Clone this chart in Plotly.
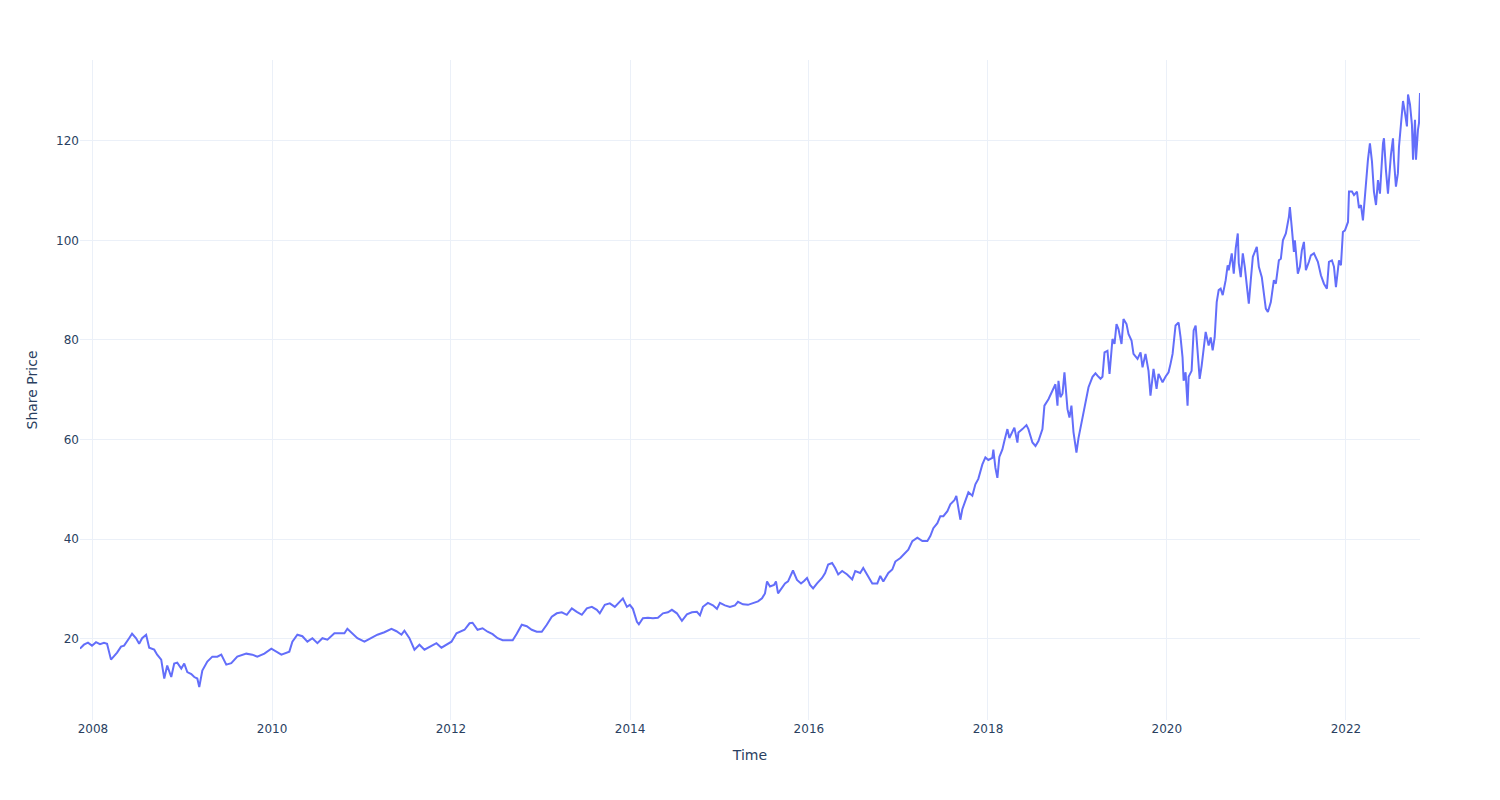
import pandas as pd
import plotly.graph_objects as go

# decimal years
years = [
    2007.855, 2007.899, 2007.944, 2007.989, 2008.034, 2008.078, 2008.123, 2008.157, 2008.201, 2008.235,
    2008.269, 2008.313, 2008.347, 2008.403, 2008.436, 2008.481, 2008.515, 2008.548, 2008.593, 2008.627,
    2008.683, 2008.716, 2008.761, 2008.795, 2008.828, 2008.873, 2008.906, 2008.940, 2008.985, 2009.018,
    2009.052, 2009.097, 2009.130, 2009.164, 2009.186, 2009.220, 2009.276, 2009.332, 2009.388, 2009.432,
    2009.488, 2009.544, 2009.611, 2009.712, 2009.779, 2009.835, 2009.914, 2009.992, 2010.048, 2010.104,
    2010.193, 2010.227, 2010.283, 2010.339, 2010.395, 2010.451, 2010.507, 2010.563, 2010.619, 2010.675,
    2010.697, 2010.753, 2010.809, 2010.842, 2010.898, 2010.954, 2011.033, 2011.111, 2011.178, 2011.256,
    2011.335, 2011.391, 2011.447, 2011.480, 2011.536, 2011.592, 2011.648, 2011.704, 2011.783, 2011.838,
    2011.894, 2011.950, 2012.006, 2012.062, 2012.118, 2012.152, 2012.208, 2012.241, 2012.297, 2012.353,
    2012.409, 2012.465, 2012.521, 2012.577, 2012.633, 2012.689, 2012.734, 2012.790, 2012.846, 2012.901,
    2012.957, 2013.013, 2013.069, 2013.125, 2013.181, 2013.237, 2013.293, 2013.349, 2013.405, 2013.461,
    2013.517, 2013.573, 2013.629, 2013.662, 2013.718, 2013.774, 2013.830, 2013.886, 2013.920, 2013.965,
    2013.998, 2014.032, 2014.077, 2014.099, 2014.144, 2014.200, 2014.256, 2014.312, 2014.368, 2014.424,
    2014.468, 2014.524, 2014.580, 2014.636, 2014.692, 2014.748, 2014.782, 2014.815, 2014.871, 2014.927,
    2014.972, 2015.005, 2015.061, 2015.117, 2015.173, 2015.207, 2015.263, 2015.319, 2015.375, 2015.431,
    2015.476, 2015.509, 2015.532, 2015.565, 2015.610, 2015.632, 2015.655, 2015.699, 2015.733, 2015.767,
    2015.800, 2015.822, 2015.867, 2015.912, 2015.946, 2015.979, 2016.013, 2016.047, 2016.091, 2016.147,
    2016.181, 2016.215, 2016.259, 2016.293, 2016.327, 2016.371, 2016.427, 2016.483, 2016.517, 2016.572,
    2016.606, 2016.651, 2016.707, 2016.763, 2016.796, 2016.830, 2016.886, 2016.930, 2016.964, 2017.020,
    2017.076, 2017.109, 2017.154, 2017.210, 2017.266, 2017.322, 2017.355, 2017.389, 2017.434, 2017.467,
    2017.501, 2017.546, 2017.579, 2017.624, 2017.646, 2017.669, 2017.691, 2017.713, 2017.747, 2017.781,
    2017.825, 2017.859, 2017.892, 2017.937, 2017.971, 2018.004, 2018.049, 2018.060, 2018.083, 2018.105,
    2018.127, 2018.161, 2018.183, 2018.217, 2018.239, 2018.273, 2018.295, 2018.329, 2018.340, 2018.385,
    2018.430, 2018.452, 2018.497, 2018.531, 2018.564, 2018.609, 2018.631, 2018.676, 2018.721, 2018.754,
    2018.777, 2018.788, 2018.810, 2018.833, 2018.855, 2018.889, 2018.911, 2018.933, 2018.956, 2018.989,
    2019.012, 2019.057, 2019.090, 2019.124, 2019.169, 2019.202, 2019.236, 2019.258, 2019.280, 2019.303,
    2019.336, 2019.359, 2019.392, 2019.415, 2019.437, 2019.459, 2019.493, 2019.515, 2019.549, 2019.571,
    2019.605, 2019.627, 2019.672, 2019.706, 2019.728, 2019.761, 2019.795, 2019.817, 2019.851, 2019.885,
    2019.907, 2019.952, 2019.985, 2020.019, 2020.041, 2020.064, 2020.097, 2020.131, 2020.153, 2020.175,
    2020.187, 2020.209, 2020.231, 2020.243, 2020.276, 2020.299, 2020.321, 2020.343, 2020.366, 2020.388,
    2020.410, 2020.433, 2020.466, 2020.489, 2020.511, 2020.533, 2020.556, 2020.578, 2020.600, 2020.623,
    2020.656, 2020.678, 2020.690, 2020.724, 2020.746, 2020.768, 2020.791, 2020.802, 2020.824, 2020.847,
    2020.869, 2020.903, 2020.914, 2020.936, 2020.959, 2021.003, 2021.026, 2021.059, 2021.082, 2021.104,
    2021.127, 2021.160, 2021.194, 2021.216, 2021.250, 2021.272, 2021.295, 2021.328, 2021.362, 2021.373,
    2021.395, 2021.418, 2021.429, 2021.462, 2021.485, 2021.507, 2021.530, 2021.552, 2021.586, 2021.608,
    2021.642, 2021.686, 2021.720, 2021.754, 2021.787, 2021.810, 2021.843, 2021.866, 2021.888, 2021.922,
    2021.944, 2021.966, 2021.989, 2022.023, 2022.034, 2022.067, 2022.090, 2022.123, 2022.146, 2022.168,
    2022.190, 2022.201, 2022.224, 2022.246, 2022.268, 2022.291, 2022.313, 2022.336, 2022.358, 2022.380,
    2022.414, 2022.425, 2022.447, 2022.470, 2022.481, 2022.503, 2022.526, 2022.537, 2022.559, 2022.581,
    2022.593, 2022.626, 2022.638, 2022.660, 2022.682, 2022.694, 2022.716, 2022.738, 2022.750, 2022.772,
    2022.783, 2022.805, 2022.817, 2022.828,
]

prices = [
    18.0, 18.8, 19.2, 18.6, 19.3, 18.9, 19.2, 19.0, 15.8, 16.4,
    17.2, 18.4, 18.6, 20.1, 21.0, 20.1, 19.0, 20.1, 20.8, 18.2,
    17.8, 16.8, 15.8, 12.0, 14.6, 12.3, 15.0, 15.2, 14.0, 15.0,
    13.3, 12.9, 12.3, 12.0, 10.3, 13.6, 15.4, 16.4, 16.4, 16.8,
    14.8, 15.1, 16.4, 17.0, 16.8, 16.4, 17.0, 18.0, 17.4, 16.8,
    17.4, 19.4, 20.8, 20.5, 19.4, 20.1, 19.1, 20.1, 19.8, 20.6,
    21.1, 21.1, 21.1, 22.0, 21.0, 20.1, 19.4, 20.2, 20.8, 21.3,
    22.0, 21.5, 20.8, 21.6, 20.1, 17.8, 18.8, 17.8, 18.5, 19.1,
    18.2, 18.8, 19.4, 21.1, 21.6, 21.8, 23.1, 23.2, 21.8, 22.1,
    21.4, 20.9, 20.1, 19.7, 19.7, 19.7, 21.0, 22.8, 22.5, 21.8,
    21.4, 21.4, 22.8, 24.4, 25.1, 25.3, 24.8, 26.1, 25.4, 24.8,
    26.1, 26.4, 25.8, 25.1, 26.8, 27.1, 26.4, 27.5, 28.1, 26.4,
    26.8, 26.0, 23.4, 22.9, 24.1, 24.2, 24.1, 24.2, 25.1, 25.3,
    25.8, 25.1, 23.6, 24.9, 25.3, 25.4, 24.7, 26.4, 27.2, 26.7,
    26.0, 27.2, 26.7, 26.4, 26.7, 27.4, 26.9, 26.8, 27.2, 27.5,
    28.1, 29.1, 31.5, 30.5, 30.8, 31.5, 29.1, 30.1, 31.1, 31.5,
    32.9, 33.7, 31.8, 31.1, 31.6, 32.2, 30.8, 30.1, 31.1, 32.2,
    33.2, 34.9, 35.2, 34.2, 32.9, 33.6, 32.9, 31.9, 33.6, 33.2,
    34.2, 32.9, 31.1, 31.1, 32.6, 31.5, 33.2, 33.9, 35.5, 36.2,
    37.2, 37.9, 39.6, 40.3, 39.6, 39.6, 40.6, 42.2, 43.2, 44.6,
    44.6, 45.6, 47.0, 47.8, 48.7, 46.3, 43.9, 46.0, 47.7, 49.4,
    48.7, 51.0, 52.1, 55.0, 56.4, 55.9, 56.3, 58.0, 54.3, 52.3,
    56.5, 58.0, 59.7, 62.1, 60.3, 61.4, 62.4, 59.4, 61.4, 62.1,
    62.9, 62.1, 59.4, 58.7, 59.7, 62.1, 66.8, 68.1, 69.8, 71.1,
    66.8, 71.8, 68.5, 69.2, 73.5, 66.1, 64.4, 66.8, 61.5, 57.4,
    60.3, 64.4, 67.4, 70.5, 72.6, 73.3, 72.6, 72.2, 72.6, 77.5,
    77.8, 73.2, 80.2, 79.2, 83.2, 82.2, 79.2, 84.2, 83.2, 81.2,
    79.9, 77.2, 76.2, 77.5, 74.5, 77.2, 73.8, 68.8, 74.2, 70.2,
    73.2, 71.5, 72.6, 73.5, 75.2, 77.2, 82.9, 83.5, 80.5, 76.5,
    71.8, 73.5, 66.8, 72.6, 73.8, 81.9, 82.9, 77.2, 72.2, 74.8,
    78.5, 81.6, 78.9, 80.5, 77.9, 80.5, 87.6, 90.0, 90.3, 89.0,
    92.0, 95.0, 94.0, 97.4, 93.3, 98.4, 101.4, 95.4, 92.6, 97.4,
    94.7, 89.3, 87.3, 92.0, 96.7, 98.7, 94.7, 92.6, 88.7, 86.3,
    85.6, 87.6, 92.0, 91.3, 96.0, 96.3, 100.0, 101.4, 104.7, 106.7,
    102.4, 97.7, 100.0, 93.3, 94.7, 98.0, 99.7, 94.0, 95.7, 97.0,
    97.4, 95.7, 93.0, 91.3, 90.3, 95.7, 96.0, 94.7, 90.6, 96.0,
    95.0, 101.7, 102.0, 103.7, 109.8, 109.8, 109.1, 109.8, 106.5, 107.1,
    104.0, 106.8, 111.4, 116.2, 119.5, 115.8, 109.8, 107.1, 112.1, 109.4,
    119.5, 120.5, 114.1, 109.4, 112.1, 117.2, 120.5, 116.1, 110.8, 113.5,
    118.8, 124.9, 128.0, 125.6, 122.9, 129.3, 127.3, 123.2, 116.2, 124.2,
    116.2, 122.2, 123.6, 129.6,
]


def to_date(y):
    yr = int(y)
    start = pd.Timestamp(year=yr, month=1, day=1)
    end = pd.Timestamp(year=yr + 1, month=1, day=1)
    return start + (end - start) * (y - yr)


dates = [to_date(y) for y in years]

fig = go.Figure()
fig.add_trace(go.Scatter(x=dates, y=prices, mode="lines",
                         line=dict(color="#636efa", width=2)))
fig.update_layout(
    template="plotly_white",
    width=1500, height=800,
    font=dict(family="DejaVu Sans"),
    margin=dict(l=80, r=80, t=60, b=80),
    xaxis_title="Time",
    yaxis_title="Share Price",
    showlegend=False,
)
fig.write_html("out.html")
